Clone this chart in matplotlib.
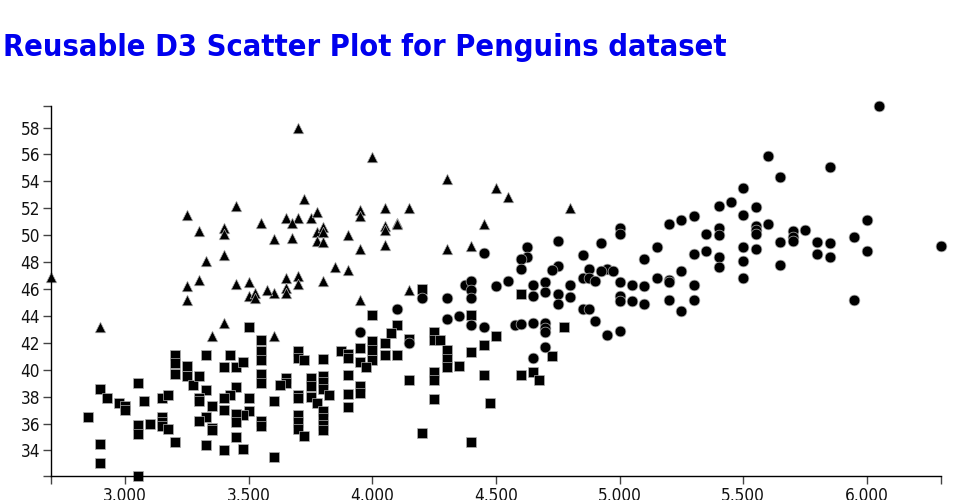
import matplotlib
matplotlib.use("Agg")
import matplotlib.pyplot as plt
from matplotlib import font_manager as fm

# Penguins: body mass (g) vs bill length (mm)
adelie_mass = [4600, 4775, 4500, 4725, 4600, 4650, 4675,
               4200, 4000, 4100, 4075, 4050, 4000, 4000, 3950, 4050, 4100, 4000, 3950, 3975,
               3875, 3900, 3900, 3800, 3700, 3700, 3725, 3900, 3900, 3900, 3950, 3950, 3800,
               3800, 3800, 3825, 3750, 3750, 3750, 3775, 3800, 3800, 3800, 3800, 3700, 3700,
               3700, 3700, 3700, 3725, 3650, 3650, 3625, 3600, 3600, 4150, 4200, 4250, 4250,
               4275, 4300, 4300, 4300, 4350, 4400, 4450, 4250, 4250, 4450, 4250, 4475, 4400,
               4150, 4400,
               3500, 3550, 3550, 3550, 3550, 3550, 3550, 3550, 3500, 3500, 3475, 3450, 3450,
               3450, 3475, 3400, 3325, 3200, 2900, 2900, 3050, 2850, 3050, 3050, 3100, 3150,
               3150, 3150, 3175, 3050, 3075, 2900, 2925, 2975, 3000, 3000, 3150, 3175, 3200,
               3200, 3200, 3250, 3250, 3275, 3300, 3325, 3325, 3300, 3300, 3350, 3325, 3300,
               3350, 3350, 3400, 3425, 3450, 3475, 3450, 3425, 3400, 3400]
adelie_bill = [45.6, 43.2, 42.5, 41.0, 39.6, 39.8, 39.2,
               46.0, 44.1, 43.3, 42.7, 42.0, 42.1, 41.5, 41.6, 41.1, 41.1, 40.7, 40.6, 40.2,
               41.4, 41.2, 40.9, 40.8, 41.4, 40.9, 40.7, 39.6, 38.2, 37.2, 38.8, 38.3, 39.5,
               39.1, 38.6, 38.1, 39.4, 38.8, 38.0, 37.5, 36.9, 36.4, 35.9, 35.5, 38.1, 37.9,
               36.6, 36.1, 35.6, 35.1, 39.4, 39.0, 38.9, 37.7, 33.5, 39.2, 35.3, 42.8, 42.2,
               42.2, 41.5, 40.8, 40.2, 40.3, 41.3, 41.8, 39.8, 39.2, 39.6, 37.8, 37.5, 34.6,
               42.3, 44.1,
               43.2, 42.2, 41.4, 40.7, 39.7, 39.0, 36.2, 35.8, 37.9, 36.9, 36.6, 36.7, 36.1,
               35.0, 34.1, 34.0, 34.4, 34.6, 34.5, 33.1, 32.1, 36.5, 35.9, 35.2, 36.0, 36.5,
               36.1, 35.8, 35.6, 39.0, 37.7, 38.6, 37.9, 37.5, 37.3, 37.0, 37.9, 38.1, 41.1,
               40.5, 39.7, 40.3, 39.5, 38.9, 39.5, 41.1, 38.5, 37.9, 37.7, 37.3, 36.5, 36.2,
               35.7, 35.5, 40.2, 41.1, 40.2, 40.6, 38.7, 38.1, 37.9, 37.0]

chinstrap_mass = [2700, 3250, 3450, 3300, 3400, 3400, 3550, 3600, 3325, 3400, 3300, 3250,
                  3450, 3500, 3700, 4000, 4300, 4500, 3725, 3650, 3700, 3675, 3750, 3775,
                  3675, 3775, 3800, 3800, 3775, 3800, 3900, 3950, 3950, 4050, 4150, 4050,
                  4050, 4100, 4100, 3950, 4050, 4300, 4400, 4450, 3850, 3900, 3650, 3700,
                  3800, 4550, 4800, 3600, 3650, 3650, 3700, 3950, 3600, 4150, 3250, 3500,
                  3525, 3525, 3575, 2900, 3400, 3350]
chinstrap_bill = [46.9, 51.5, 52.2, 50.3, 50.5, 50.1, 50.9, 49.7, 48.1, 48.5, 46.7, 46.2,
                  46.4, 46.5, 58.0, 55.8, 54.2, 53.5, 52.7, 51.3, 51.3, 50.9, 51.3, 51.7,
                  49.8, 50.2, 50.6, 50.2, 49.6, 49.5, 50.0, 51.9, 51.4, 52.0, 52.0, 50.7,
                  50.4, 50.9, 50.8, 49.0, 49.3, 49.0, 49.2, 50.8, 47.6, 47.4, 46.8, 47.0,
                  46.6, 52.8, 52.0, 45.7, 46.1, 45.7, 46.4, 45.2, 42.5, 45.9, 45.2, 45.5,
                  45.7, 45.3, 45.9, 43.2, 43.5, 42.5]

gentoo_mass = [4450, 4100, 3950, 4200, 4150, 4300, 4300, 4350, 4400, 4450, 4375, 4400,
               4400, 4400, 4500,
               5400, 5200, 5250, 5300, 5000, 5000, 4750, 4625, 4625, 4600, 4600, 4925, 4850,
               5150, 5100, 5350, 5400, 5400, 5300, 5350, 5400, 5400, 4750, 4725, 4875, 4950,
               4975, 4925, 4850, 4875, 4900, 5250, 5150, 5200, 5200, 4550, 4650, 4700, 4800,
               5000, 5050, 5100, 5300,
               6050, 5600, 5850, 5650, 5500, 5450, 5500, 5550, 5550, 5550, 5550, 5600, 5500,
               5550, 5650, 5700, 5700, 5700, 5750, 5800, 5850, 5800, 5850, 5950, 6000, 6000,
               6300, 5500, 5500, 5650, 5950,
               4700, 4650, 4750, 4750, 4800, 4850, 4875, 4900, 5000, 5000, 5050, 5100, 5200,
               5250, 5300, 4950, 5000, 4575, 4600, 4650, 4700, 4700, 4700, 4700, 4650]
gentoo_bill = [48.7, 44.5, 42.8, 45.3, 42.0, 45.3, 43.8, 44.0, 43.3, 43.2, 46.3, 46.6,
               45.9, 45.3, 46.2,
               52.2, 50.8, 51.1, 51.4, 50.5, 50.1, 49.6, 49.1, 48.4, 48.2, 47.5, 49.4, 48.5,
               49.1, 48.2, 50.1, 50.5, 50.0, 48.6, 48.8, 48.4, 47.6, 47.7, 47.4, 47.5, 47.5,
               47.3, 47.3, 46.8, 46.8, 46.6, 47.3, 46.8, 46.7, 46.5, 46.6, 46.3, 46.5, 46.3,
               46.5, 46.3, 46.2, 46.3,
               59.6, 55.9, 55.1, 54.3, 53.5, 52.5, 51.5, 52.1, 50.7, 50.4, 50.1, 50.8, 49.1,
               49.0, 49.5, 50.3, 49.9, 49.6, 50.4, 49.5, 49.4, 48.6, 48.4, 49.9, 51.1, 48.8,
               49.2, 48.1, 46.8, 47.8, 45.2,
               45.8, 45.5, 45.6, 44.9, 45.4, 44.5, 44.5, 43.6, 45.5, 45.1, 45.1, 44.9, 45.2,
               44.4, 45.2, 42.6, 42.9, 43.3, 43.4, 43.5, 43.5, 43.1, 42.8, 41.7, 40.9]

x_ticks = [3000, 3500, 4000, 4500, 5000, 5500, 6000]
y_ticks = [34, 36, 38, 40, 42, 44, 46, 48, 50, 52, 54, 56, 58]
title = "Reusable D3 Scatter Plot for Penguins dataset"

# look for a narrow / condensed face, the reference uses one
narrow_family, narrow_stretch = 'DejaVu Sans', 'normal'
for f in fm.fontManager.ttflist:
    if 'Narrow' in f.name or 'Condensed' in f.name or f.stretch in ('condensed', 'semi-condensed'):
        narrow_family, narrow_stretch = f.name, f.stretch
        break

fig = plt.figure(figsize=(9.6, 5), dpi=100)
ax = fig.add_axes([51 / 960, 24 / 500, 890 / 960, 370 / 500])

style = dict(color='black', edgecolors='#b0b0b0', linewidths=0.5, clip_on=False)
ax.scatter(adelie_mass, adelie_bill, marker='s', s=52, **style)
ax.scatter(chinstrap_mass, chinstrap_bill, marker='^', s=58, **style)
ax.scatter(gentoo_mass, gentoo_bill, marker='o', s=60, **style)

xmin, xmax = 2700, 6300
ymin, ymax = 32.1, 59.6
ax.set_xlim(xmin, xmax)
ax.set_ylim(ymin, ymax)

# d3 style axes: domain line plus outer end ticks
ax.set_xticks([xmin] + x_ticks + [xmax])
ax.set_xticklabels([''] + [f"{v:,}" for v in x_ticks] + [''])
ax.set_yticks([ymin] + y_ticks + [ymax])
ax.set_yticklabels([''] + [str(v) for v in y_ticks] + [''])

for side in ['top', 'right']:
    ax.spines[side].set_visible(False)
for side in ['left', 'bottom']:
    ax.spines[side].set_color('black')
    ax.spines[side].set_linewidth(1)

ax.tick_params(axis='both', length=6, width=1, color='#444', pad=2, labelcolor='#111')

t = fig.text(3 / 960, 1 - 56 / 500, title, color='#0000ee', fontsize=25,
             fontweight='bold', family=narrow_family, stretch=narrow_stretch,
             va='baseline', ha='left')

# scale fonts so widths match the reference
renderer = fig.canvas.get_renderer()
w = t.get_window_extent(renderer).width
t.set_fontsize(25 * 726 / w)

probe = fig.text(0, 0, "3,000", fontsize=14, family=narrow_family, stretch=narrow_stretch)
tick_size = min(15, 14 * 44 / probe.get_window_extent(renderer).width)
probe.remove()
for lbl in ax.get_xticklabels() + ax.get_yticklabels():
    lbl.set_family(narrow_family)
    lbl.set_stretch(narrow_stretch)
    lbl.set_fontsize(tick_size)

fig.savefig("out.png", dpi=100)
